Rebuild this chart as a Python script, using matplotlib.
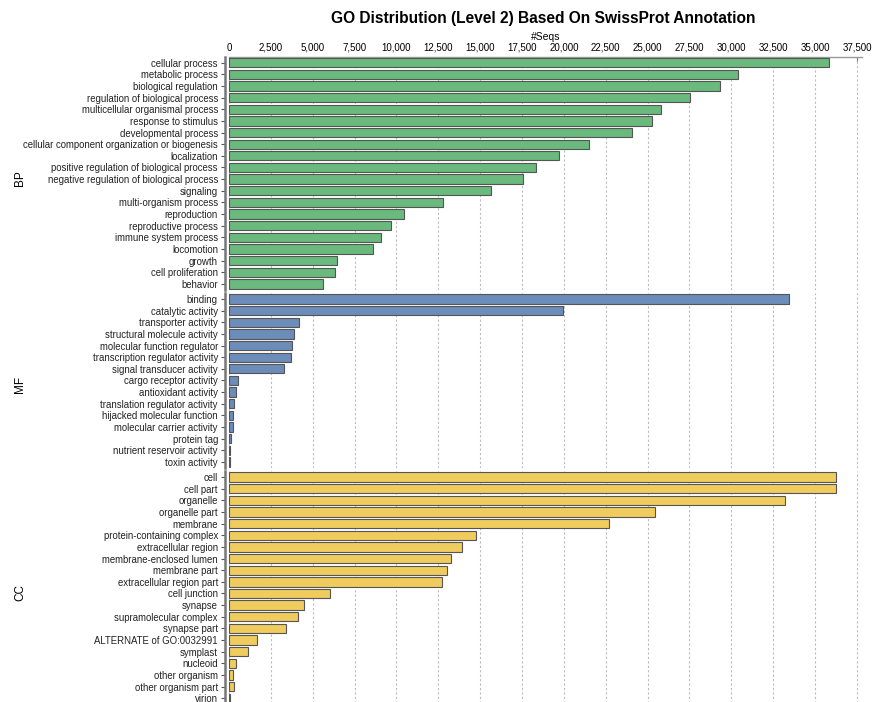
import matplotlib.pyplot as plt
from matplotlib.ticker import FuncFormatter

plt.rcParams['font.family'] = ['Liberation Sans', 'DejaVu Sans']

# Biological Process
bp_terms = ["cellular process", "metabolic process", "biological regulation",
            "regulation of biological process", "multicellular organismal process",
            "response to stimulus", "developmental process",
            "cellular component organization or biogenesis", "localization",
            "positive regulation of biological process",
            "negative regulation of biological process", "signaling",
            "multi-organism process", "reproduction", "reproductive process",
            "immune system process", "locomotion", "growth", "cell proliferation",
            "behavior"]
bp_seqs = [35830, 30420, 29350, 27510, 25790, 25250, 24070, 21510, 19730, 18360,
           17530, 15630, 12780, 10460, 9690, 9090, 8620, 6480, 6360, 5590]

# Molecular Function
mf_terms = ["binding", "catalytic activity", "transporter activity",
            "structural molecule activity", "molecular function regulator",
            "transcription regulator activity", "signal transducer activity",
            "cargo receptor activity", "antioxidant activity",
            "translation regulator activity", "hijacked molecular function",
            "molecular carrier activity", "protein tag",
            "nutrient reservoir activity", "toxin activity"]
mf_seqs = [33460, 19970, 4160, 3860, 3740, 3680, 3270, 530, 410, 300, 260, 210,
           140, 60, 40]

# Cellular Component
cc_terms = ["cell", "cell part", "organelle", "organelle part", "membrane",
            "protein-containing complex", "extracellular region",
            "membrane-enclosed lumen", "membrane part", "extracellular region part",
            "cell junction", "synapse", "supramolecular complex", "synapse part",
            "ALTERNATE of GO:0032991", "symplast", "nucleoid", "other organism",
            "other organism part", "virion"]
cc_seqs = [36250, 36240, 33220, 25430, 22700, 14740, 13910, 13250, 13010, 12720,
           6060, 4460, 4100, 3390, 1660, 1130, 420, 230, 300, 50]

groups = [("BP", bp_terms, bp_seqs, "#6ab97d"),
          ("MF", mf_terms, mf_seqs, "#6c8cba"),
          ("CC", cc_terms, cc_seqs, "#f0cc5e")]

fig, axes = plt.subplots(3, 1, figsize=(8.72, 7.02), dpi=100, sharex=True,
                         gridspec_kw={"height_ratios": [20, 15, 20]})
fig.subplots_adjust(left=0.2626, right=0.9885, top=0.919, bottom=-0.003, hspace=0.016)

xmax = 37800
for i, (name, terms, seqs, col) in enumerate(groups):
    ax = axes[i]
    ypos = list(range(len(terms)))
    ax.barh(ypos, seqs, height=0.8, color=col, edgecolor="#555555", linewidth=0.8,
            zorder=3)
    ax.set_yticks(ypos)
    ax.set_yticklabels(terms)
    ax.set_ylim(len(terms) - 0.5, -0.5)
    ax.set_xlim(0, xmax)
    ax.set_ylabel(name, fontsize=8.5)
    ax.yaxis.set_label_coords(-0.32, 0.48)
    for s in ["right", "bottom", "top"]:
        ax.spines[s].set_visible(False)
    ax.spines["left"].set_position(("outward", 3))
    ax.spines["left"].set_color("#777777")
    ax.spines["left"].set_linewidth(1.8)
    ax.tick_params(axis="y", length=3, width=0.8, color="#555555", pad=2,
                   labelsize=6.9, labelcolor="#222222")
    ax.xaxis.grid(True, linestyle=(0, (2, 2)), color="#bbbbbb", linewidth=0.8)
    ax.set_axisbelow(True)
    ax.tick_params(axis="x", bottom=False, labelbottom=False)

top = axes[0]
top.spines["top"].set_visible(True)
top.spines["top"].set_color("#999999")
top.spines["top"].set_linewidth(1.0)
top.xaxis.set_ticks_position("top")
top.xaxis.set_label_position("top")
top.set_xticks(range(0, 37501, 2500))
top.xaxis.set_major_formatter(FuncFormatter(lambda v, p: f"{int(v):,}"))
top.tick_params(axis="x", top=True, labeltop=True, direction="in", length=3,
                color="#777777", labelsize=7, pad=3)
top.set_xlabel("#Seqs", fontsize=7.5, labelpad=2)

fig.suptitle("GO Distribution (Level 2) Based On SwissProt Annotation",
             fontsize=11.2, fontweight="bold", x=0.623, y=0.985)

fig.savefig("out.png", dpi=100)
